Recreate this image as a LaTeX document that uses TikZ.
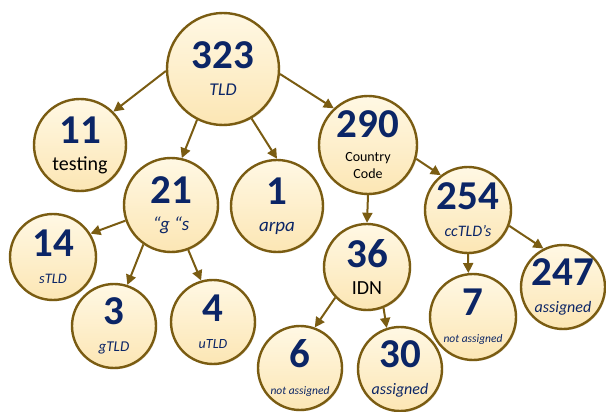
\documentclass[tikz,border=0pt]{standalone}
\usepackage{fontspec}
\setmainfont{Carlito}
\usetikzlibrary{arrows.meta,shadows}

\definecolor{ring}{HTML}{7A5C12}
\definecolor{navy}{HTML}{0B2566}
\definecolor{creamtop}{HTML}{FFF8E4}
\definecolor{creambot}{HTML}{FCE6B4}

\newcommand\nb[1]{{\fontsize{41}{41}\selectfont\bfseries\color{navy}#1}}
\newcommand\lb[2]{{\fontsize{#1}{#1}\selectfont\itshape\color{navy}#2}}

\begin{document}
\begin{tikzpicture}[x=1pt, y=-1pt,
  leaf/.style={circle, draw=ring, line width=2.4pt, top color=creamtop, bottom color=creambot,
    minimum size=#1, inner sep=0pt, align=center, font=\fontsize{18}{27}\selectfont,
    drop shadow={shadow xshift=1.2pt, shadow yshift=-1.2pt, fill=ring!70, opacity=.35}},
  arr/.style={draw=ring, line width=2pt, -{Triangle[length=10pt,width=10pt]}}]
\useasboundingbox (0,0) rectangle (606,412);

% top of the tree
\node[leaf=112pt] (tld) at (223,69) {\nb{323}\\\lb{18}{TLD}};
\node[leaf=92pt] (test) at (80,145) {\nb{11}\\{\fontsize{20}{20}\selectfont testing}};
\node[leaf=94pt] (gs) at (171,205) {\nb{21}\\\lb{19}{“g “s}};
\node[leaf=92pt] (arpa) at (277,206) {\nb{1}\\\lb{19}{arpa}};
\node[leaf=98pt] (cc) at (368,145) {\nb{290}\\[-3pt]{\fontsize{14}{14}\selectfont Country}\\[-10pt]{\fontsize{14}{14}\selectfont Code}};

% second level
\node[leaf=86pt] (cctld) at (468,210) {\nb{254}\\\lb{16}{ccTLD’s}};
\node[leaf=86pt] (idn) at (367,267) {\nb{36}\\{\fontsize{20}{20}\selectfont IDN}};
\node[leaf=86pt] (stld) at (53,257) {\nb{14}\\\lb{14.5}{sTLD}};
\node[leaf=84pt] (gtld) at (114,326) {\nb{3}\\\lb{15}{gTLD}};
\node[leaf=84pt] (utld) at (213,322) {\nb{4}\\\lb{14}{uTLD}};

% leaves
\node[leaf=84pt] (idnno) at (300,368) {\nb{6}\\\lb{11.5}{not assigned}};
\node[leaf=84pt] (idnyes) at (400,369) {\nb{30}\\\lb{16}{assigned}};
\node[leaf=86pt] (ccno) at (473,317) {\nb{7}\\\lb{11.5}{not assigned}};
\node[leaf=84pt] (ccyes) at (563,287) {\nb{247}\\\lb{16}{assigned}};

\draw[arr] (tld.182) -- (test.45);
\draw[arr] (tld.-117) -- (gs.77);
\draw[arr] (tld.-60) -- (arpa.90);
\draw[arr] (tld.-5) -- (cc.133);
\draw[arr] (gs.199) -- (stld.32);
\draw[arr] (gs.235) -- (gtld.72);
\draw[arr] (gs.-69) -- (utld.106);
\draw[arr] (cc.south) -- (idn.north);
\draw[arr] (cc.-16) -- (cctld.128);
\draw[arr] (idn.-136) -- (idnno.70);
\draw[arr] (idn.-68) -- (idnyes.108);
\draw[arr] (cctld.south) -- (ccno.96);
\draw[arr] (cctld.-21) -- (ccyes.117);
\end{tikzpicture}
\end{document}
